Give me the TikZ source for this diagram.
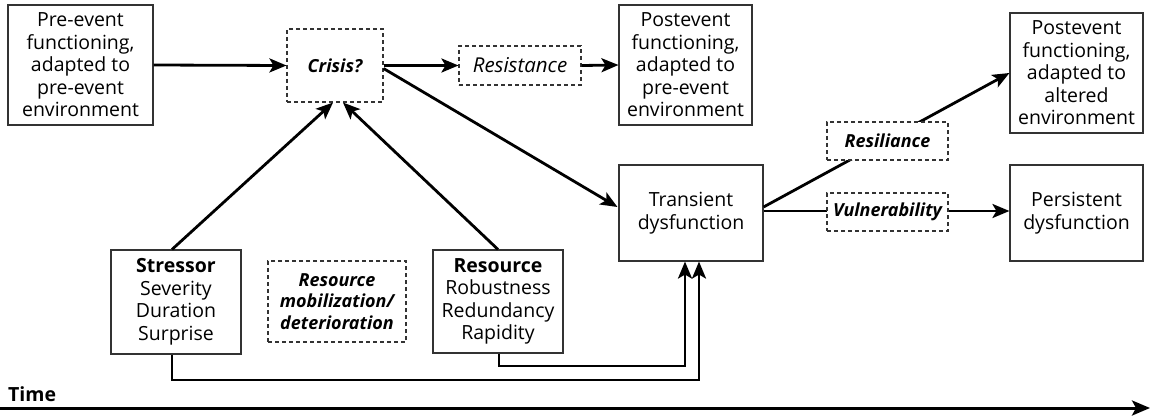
\documentclass[tikz,border=0pt]{standalone}
\usepackage{fontspec}
\setmainfont{Open Sans}
\usetikzlibrary{arrows.meta,calc}
\begin{document}
\begin{tikzpicture}[x=1pt,y=-1pt,
  box/.style={draw=black!80, line width=1.1pt, fill=white, align=center, inner sep=0pt,
    font=\fontsize{19.5}{22.5}\selectfont},
  dbox/.style={box, dash pattern=on 4pt off 3pt, font=\fontsize{20.5}{21.5}\selectfont\itshape},
  bibox/.style={dbox, font=\fontsize{18}{21.5}\selectfont\bfseries\itshape},
  conn/.style={line width=2.8pt, -{Stealth[length=17pt,width=14pt,inset=4pt]}}]
\useasboundingbox (0,0) rectangle (1150,417);

\node[box, minimum width=145pt, minimum height=120pt] (pre) at (80.5,65) {Pre-event\\functioning,\\adapted to\\pre-event\\environment};
\node[bibox, minimum width=96pt, minimum height=73pt] (cr) at (335,65.5) {Crisis?};
\node[dbox, minimum width=122pt, minimum height=39pt] (rsi) at (520,65.5) {Resistance};
\node[box, minimum width=133pt, minimum height=120pt] (pe1) at (685.5,65) {Postevent\\functioning,\\adapted to\\pre-event\\environment};
\node[box, minimum width=133pt, minimum height=120pt] (pe2) at (1076.5,73) {Postevent\\functioning,\\adapted to\\altered\\environment};
\node[box, minimum width=144pt, minimum height=96pt] (tr) at (691,213) {Transient\\dysfunction};
\node[box, minimum width=133pt, minimum height=96pt] (ps) at (1076.5,213) {Persistent\\dysfunction};
\node[box, minimum width=130pt, minimum height=104pt] (st) at (176,302) {\textbf{Stressor}\\Severity\\Duration\\Surprise};
\node[box, minimum width=130pt, minimum height=103pt] (rs) at (498,301.5) {\textbf{Resource}\\Robustness\\Redundancy\\Rapidity};

% connectors
\draw[conn] (pre.east) -- (cr.west);
\draw[conn] (cr.east) -- (rsi.west);
\draw[conn] (rsi.east) -- (pe1.west);
\draw[conn] ($(cr.east)+(0,3)$) -- ($(tr.west)+(-1,-6)$);
\draw[conn] ($(st.north)+(-4,0)$) -- ($(cr.south)+(-2,0)$);
\draw[conn] ($(rs.north)+(0,0)$) -- ($(cr.south)+(8,0)$);
\draw[conn] ($(tr.east)+(0,-6)$) -- (pe2.west);
\draw[conn] ($(tr.east)+(0,-2)$) -- ($(ps.west)+(0,-2)$);
\draw[conn] ($(st.south)+(-4,0)$) |- (699,380) -- ($(tr.south)+(8,0)$);
\draw[conn] ($(rs.south)+(1,0)$) |- (685,366) -- ($(tr.south)+(-6,0)$);

% dashed label boxes on top of lines
\node[bibox, minimum width=121pt, minimum height=38pt] (rl) at (887.5,141) {Resiliance};
\node[bibox, minimum width=121pt, minimum height=38pt] (vu) at (887.5,212) {Vulnerability};
\node[bibox, minimum width=138pt, minimum height=81pt] (rm) at (337,301.5) {Resource\\mobilization/\\deterioration};

% time axis
\node[anchor=west, inner sep=0pt, font=\fontsize{19.5}{22}\selectfont\bfseries] (time) at (8,394) {Time};
\coordinate (t0) at (0,408);
\coordinate (t1) at (1150,408);
\draw[line width=3pt, -{Stealth[length=18pt,width=15pt,inset=4pt]}] (t0) -- (t1);
\end{tikzpicture}
\end{document}
